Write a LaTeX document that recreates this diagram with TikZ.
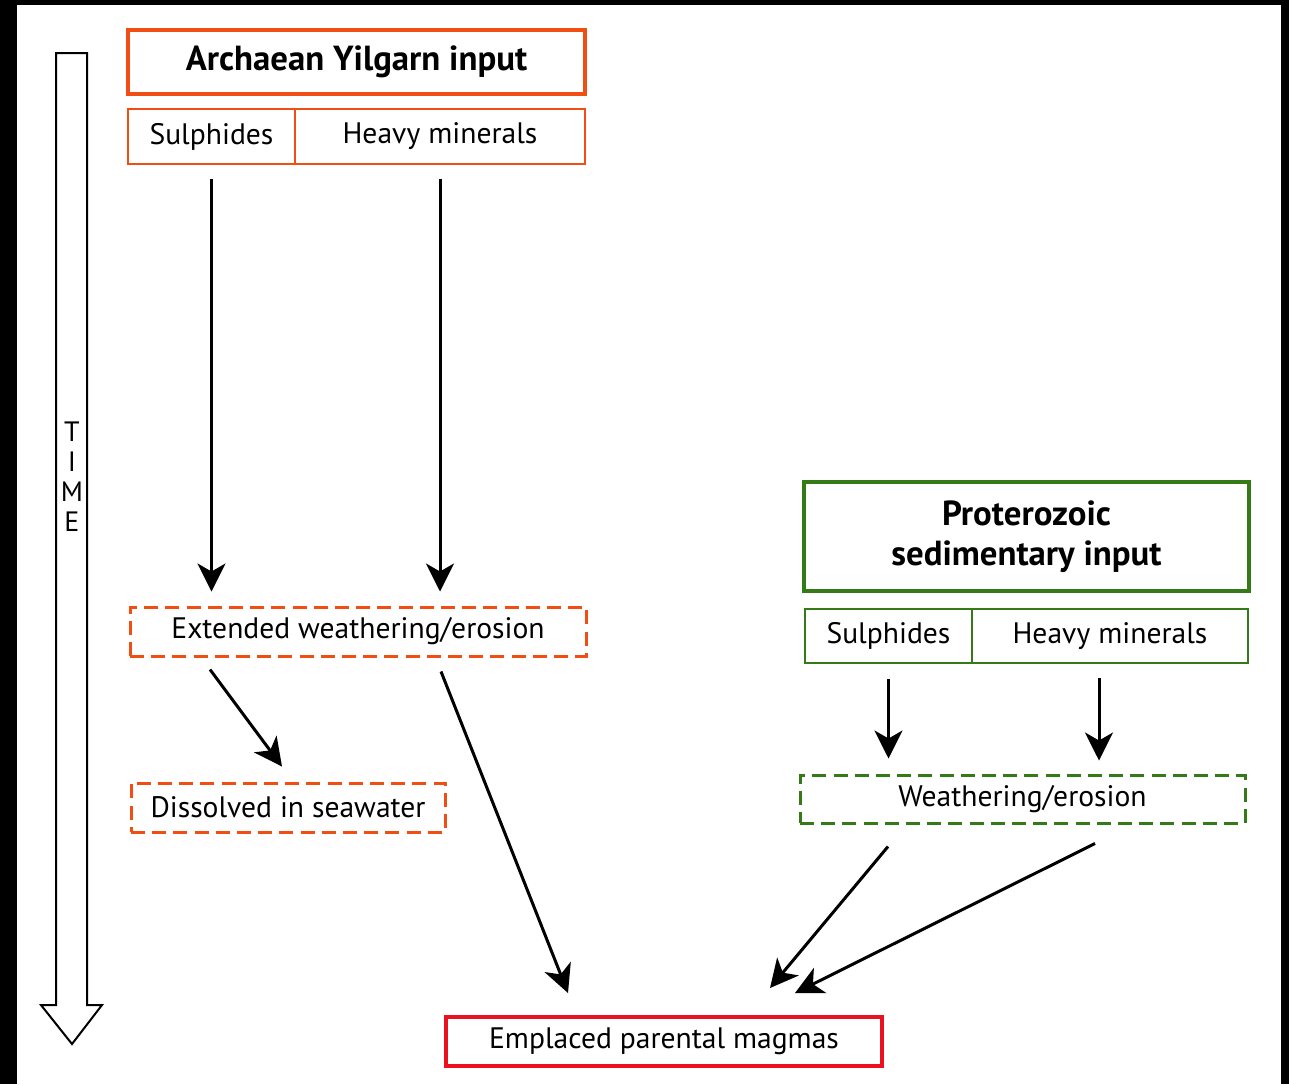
\documentclass[tikz,border=0pt]{standalone}
\usepackage{fontspec}
\setmainfont{PT Sans}
\usetikzlibrary{arrows.meta}
\definecolor{archorange}{RGB}{240,78,18}
\definecolor{protgreen}{RGB}{52,122,22}
\definecolor{magmared}{RGB}{234,18,30}

\begin{document}
\begin{tikzpicture}[x=0.5pt, y=-0.5pt,
  >={Stealth[length=14pt,width=14pt,inset=4pt]},
  txt/.style={font=\fontsize{14.8}{16}\selectfont, inner sep=0pt, align=center},
  titlebox/.style={txt, draw, line width=2pt, font=\fontsize{17.4}{20}\selectfont\bfseries},
  cell/.style={txt, draw, line width=0.75pt, minimum height=27.5pt},
  dashbox/.style={txt, draw, line width=1.5pt, dash pattern=on 7pt off 3.6pt, minimum height=24.5pt},
  flow/.style={->, line width=1.5pt}]

% Frame
\useasboundingbox (0,0) rectangle (1289,1084);
\fill[black] (0,0) rectangle (1289,1084);
\fill[white] (17,5) rectangle (1281,1084);

% Time arrow
\draw[line width=1pt, line join=miter] (56,53) -- (87,53) -- (87,1005) -- (102,1005)
  -- (72,1044) -- (41,1005) -- (56,1005) -- cycle;
\node[font=\fontsize{14}{15}\selectfont, align=center, inner sep=0pt] (time) at (72,477) {T\\I\\M\\E};

% Archaean input
\node[titlebox, draw=archorange, minimum width=228.5pt, minimum height=32pt] (archA) at (356.5,62) {Archaean Yilgarn input};
\node[cell, draw=archorange, minimum width=83.5pt] (sulA) at (211.5,136.5) {Sulphides};
\node[cell, draw=archorange, minimum width=145pt] (heavyA) at (440,136.5) {Heavy minerals};
\node[dashbox, draw=archorange, minimum width=228pt] (ext) at (358,631.5) {Extended weathering/erosion};
\node[dashbox, draw=archorange, minimum width=157pt] (diss) at (288,807.5) {Dissolved in seawater};

% Proterozoic input
\node[titlebox, draw=protgreen, minimum width=222.5pt, minimum height=54.5pt] (protB) at (1026.5,536.5) {Proterozoic\\sedimentary input};
\node[cell, draw=protgreen, minimum width=83.5pt, minimum height=27pt] (sulB) at (888.5,636) {Sulphides};
\node[cell, draw=protgreen, minimum width=138pt, minimum height=27pt] (heavyB) at (1110,636) {Heavy minerals};
\node[dashbox, draw=protgreen, minimum width=222.5pt, minimum height=24pt] (weath) at (1022.5,799) {Weathering/erosion};

% Magmas
\node[txt, draw=magmared, line width=2pt, minimum width=218pt, minimum height=24.5pt] (magma) at (664,1041.5) {Emplaced parental magmas};

% Arrows
\foreach \src in {sulA, heavyA}
  \draw[flow, shorten <=7pt, shorten >=7pt] (\src.south) -- (\src.south |- ext.north);
\draw[flow, shorten <=7.5pt, shorten >=7.5pt] (sulB.south) -- (sulB.south |- weath.north);
\draw[flow, shorten <=7pt, shorten >=6.5pt] ([xshift=-5.5pt]heavyB.south) -- ([xshift=-5.5pt]heavyB.south |- weath.north);
\draw[flow] ([shift={(-148,12)}]ext.south) -- ([shift={(-6,-15)}]diss.north);
\draw[flow] ([shift={(83,14)}]ext.south) -- ([shift={(-96,-22)}]magma.north);
\draw[flow] ([shift={(-134.5,22)}]weath.south) -- ([shift={(106,-27)}]magma.north);
\draw[flow] ([shift={(72.5,19)}]weath.south) -- ([shift={(131,-22)}]magma.north);

\end{tikzpicture}
\end{document}
